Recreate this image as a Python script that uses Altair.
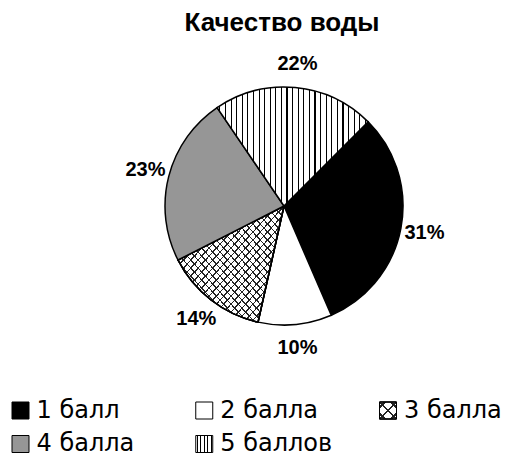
import math
import altair as alt
import pandas as pd

# ---------------- data ----------------
title_text = "Качество воды"
categories = ["1 балл", "2 балла", "3 балла", "4 балла", "5 баллов"]
percent = [31, 10, 14, 23, 22]
label_text = ["31%", "10%", "14%", "23%", "22%"]

# ---------------- style / layout ----------------
START = math.pi / 4           # first slice starts at 45° (clockwise from north)
T = 41                        # space above the view for the title
CX, CY = 276, 206 - 8 - T     # pie centre inside the view
R = 119
LABEL_R = 143
ROW_Y = [410.5 - 8 - T, 444 - 8 - T]
COL_X = [12.5, 380]
GRAY = "#969696"

cum = pd.Series(percent).cumsum()
df = pd.DataFrame({
    "cat": categories,
    "pct": percent,
    "label": label_text,
    "end": cum,
    "start": cum - pd.Series(percent),
})
df["mid"] = (df["start"] + df["end"]) / 2
df["row"] = [i // 3 for i in range(len(categories))]
df["col"] = [i % 3 for i in range(len(categories))]


def stripes(n, frac, line, bg, x1, y1, x2, y2):
    stops = []
    hw = frac / (2 * n)
    for k in range(n):
        a, b = k / n, (k + 1) / n
        c = (a + b) / 2
        for off, col in [(a, bg), (c - hw, bg), (c - hw, line),
                         (c + hw, line), (c + hw, bg), (b, bg)]:
            stops.append(alt.GradientStop(color=col, offset=round(min(max(off, 0), 1), 5)))
    return alt.LinearGradient(gradient="linear", stops=stops, x1=x1, y1=y1, x2=x2, y2=y2)


CLEAR = "rgba(255,255,255,0)"
pie_vert = stripes(27, 0.2, "#000000", "#ffffff", 0, 0, 1, 0)
pie_diag1 = stripes(29, 0.2, "#222222", CLEAR, 0, 0, 1, 1)
pie_diag2 = stripes(29, 0.2, "#222222", CLEAR, 1, 0, 0, 1)
leg_vert = stripes(5, 0.3, "#000000", "#ffffff", 0, 0, 1, 0)
leg_diag1 = stripes(3, 0.25, "#222222", CLEAR, 0, 0, 1, 1)
leg_diag2 = stripes(3, 0.25, "#222222", CLEAR, 1, 0, 0, 1)

theta_scale = alt.Scale(domain=[0, 100], range=[START, START + 2 * math.pi])
xs = alt.Scale(domain=[0, 2], range=COL_X, nice=False, zero=False)
ys = alt.Scale(domain=[0, 1], range=ROW_Y, nice=False, zero=False)

base = alt.Chart(df)


def slice_layer(cat, fill):
    return base.transform_filter(alt.datum.cat == cat).mark_arc(
        fill=fill, stroke="black", strokeWidth=1.5, radius=R
    ).encode(
        theta=alt.Theta("start:Q", stack=None, scale=theta_scale),
        theta2="end:Q",
        x=alt.value(CX),
        y=alt.value(CY),
    )


def swatch_layer(cat, fill):
    return base.transform_filter(alt.datum.cat == cat).mark_point(
        shape="square", filled=True, size=289, fill=fill, stroke="black",
        strokeWidth=1, opacity=1
    ).encode(
        x=alt.X("col:Q", scale=xs, axis=None),
        y=alt.Y("row:Q", scale=ys, axis=None),
    )


layers = [
    slice_layer("1 балл", "#000000"),
    slice_layer("2 балла", "#ffffff"),
    slice_layer("3 балла", "#ffffff"),
    slice_layer("3 балла", pie_diag1),
    slice_layer("3 балла", pie_diag2),
    slice_layer("4 балла", GRAY),
    slice_layer("5 баллов", pie_vert),
]

labels = base.mark_text(
    font="Liberation Sans", fontSize=20, fontWeight="bold", radius=LABEL_R,
    align="center", baseline="middle", color="black"
).encode(
    theta=alt.Theta("mid:Q", stack=None, scale=theta_scale),
    text="label:N",
    x=alt.value(CX),
    y=alt.value(CY),
)
layers.append(labels)

layers += [
    swatch_layer("1 балл", "#000000"),
    swatch_layer("2 балла", "#ffffff"),
    swatch_layer("3 балла", "#ffffff"),
    swatch_layer("3 балла", leg_diag1),
    swatch_layer("3 балла", leg_diag2),
    swatch_layer("4 балла", GRAY),
    swatch_layer("5 баллов", leg_vert),
]

legend_text = base.mark_text(
    font="DejaVu Sans", fontSize=24, align="left", baseline="middle",
    dx=16, color="black"
).encode(
    x=alt.X("col:Q", scale=xs, axis=None),
    y=alt.Y("row:Q", scale=ys, axis=None),
    text="cat:N",
)
layers.append(legend_text)

chart = alt.layer(*layers).properties(
    width=512,
    height=451 - T,
    title=alt.TitleParams(
        title_text, font="Liberation Sans", fontSize=26, fontWeight="bold",
        anchor="middle", dx=18, offset=13, color="black"
    ),
    autosize=alt.AutoSizeParams(type="none"),
    padding={"left": 0, "right": 0, "top": T, "bottom": 0},
).configure_view(stroke=None)

chart.save("out.html", embed_options={"renderer": "svg", "actions": False})
